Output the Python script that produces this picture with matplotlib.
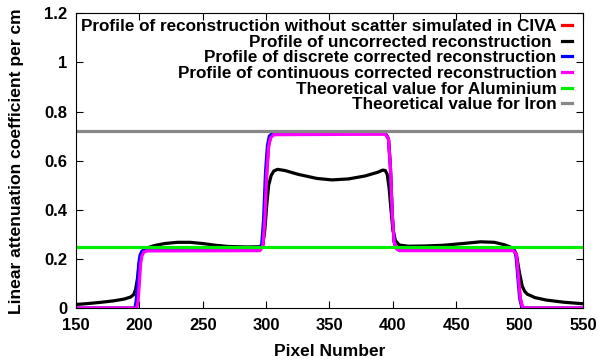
import numpy as np
import matplotlib
matplotlib.use("Agg")
import matplotlib.pyplot as plt

plt.rcParams['font.family'] = ['Liberation Sans', 'DejaVu Sans']
plt.rcParams['font.weight'] = 'bold'

# uncorrected reconstruction profile (black)
x_unc = [150, 160, 170, 180, 188, 193, 195.5, 197, 198.5, 200, 201.5, 203, 206, 212, 220, 230,
         240, 250, 260, 270, 285, 295, 297.5, 299, 300.5, 302, 304, 306, 309, 315, 325, 340, 352,
         365, 378, 388, 392, 394, 395.5, 397, 398.5, 400, 402, 405, 412, 425, 440, 455, 469,
         480, 488, 493, 496, 498, 500, 502, 504, 506, 512, 521, 535, 550]
y_unc = [0.015, 0.019, 0.024, 0.03, 0.037, 0.045, 0.055, 0.075, 0.12, 0.18, 0.22, 0.235, 0.245,
         0.255, 0.263, 0.268, 0.268, 0.263, 0.256, 0.251, 0.249, 0.25, 0.262, 0.32, 0.42, 0.5,
         0.54, 0.558, 0.565, 0.56, 0.545, 0.528, 0.522, 0.526, 0.538, 0.553, 0.562, 0.56, 0.545,
         0.49, 0.4, 0.32, 0.275, 0.257, 0.252, 0.253, 0.256, 0.263, 0.27, 0.268, 0.258, 0.248,
         0.235, 0.2, 0.14, 0.09, 0.068, 0.057, 0.043, 0.033, 0.024, 0.018]

# reconstruction without scatter (red)
x_civa = [150, 197.5, 198.5, 199.5, 200.5, 201.5, 203, 206, 295, 297.5, 299, 300.5, 302, 303.5,
          306, 394, 396.5, 398, 399.5, 401, 402.5, 405, 495, 497.5, 499, 500.5, 502, 504, 550]
y_civa = [0.0, 0.0, 0.03, 0.1, 0.18, 0.215, 0.23, 0.235, 0.235, 0.255, 0.36, 0.55, 0.66, 0.695,
          0.708, 0.71, 0.69, 0.58, 0.38, 0.27, 0.245, 0.236, 0.236, 0.22, 0.13, 0.04, 0.008, 0.0,
          0.0]

# discrete corrected (blue)
x_disc = [150, 196.5, 197.5, 198.5, 199.5, 200.5, 202, 205, 294, 296.5, 298, 299.5, 301, 302.5,
          305, 394, 396.5, 398, 399.5, 401, 402.5, 405, 495, 497, 498.5, 500, 501.5, 503.5, 550]
y_disc = [0.0, 0.0, 0.03, 0.1, 0.18, 0.215, 0.232, 0.237, 0.237, 0.257, 0.36, 0.55, 0.66, 0.7,
          0.712, 0.712, 0.69, 0.58, 0.38, 0.27, 0.245, 0.237, 0.237, 0.22, 0.13, 0.04, 0.008, 0.0,
          0.0]

# continuous corrected (magenta)
x_cont = [150, 198, 199, 200, 201, 202, 203.5, 206, 295, 297.5, 299, 300.5, 302, 303.5, 306,
          394, 396.5, 398, 399.5, 401, 402.5, 405, 495, 497.5, 499, 500.5, 502, 504, 550]
y_cont = [0.0, 0.0, 0.03, 0.1, 0.18, 0.212, 0.228, 0.233, 0.234, 0.255, 0.36, 0.55, 0.66, 0.693,
          0.706, 0.708, 0.69, 0.58, 0.38, 0.27, 0.244, 0.234, 0.234, 0.22, 0.13, 0.04, 0.008, 0.0,
          0.0]

al_value = 0.25
fe_value = 0.72

fig = plt.figure(figsize=(5.98, 3.6), dpi=100)
ax = fig.add_axes([0.127, 0.144, 0.848, 0.819])

lw = 2.3
ax.plot(x_civa, y_civa, color='red', lw=lw,
        label='Profile of reconstruction without scatter simulated in CIVA')
ax.plot(x_unc, y_unc, color='black', lw=lw, label='Profile of uncorrected reconstruction ')
ax.plot(x_disc, y_disc, color='blue', lw=lw, label='Profile of discrete corrected reconstruction')
ax.plot(x_cont, y_cont, color='magenta', lw=lw,
        label='Profile of continuous corrected reconstruction')
ax.axhline(al_value, color='#00ee00', lw=lw, label='Theoretical value for Aluminium')
ax.axhline(fe_value, color='#888888', lw=lw, label='Theoretical value for Iron')

ax.set_xlim(150, 550)
ax.set_ylim(0, 1.2)
ax.set_xticks(np.arange(150, 551, 50))
ax.set_yticks([0, 0.2, 0.4, 0.6, 0.8, 1, 1.2])
ax.set_yticklabels(['0', '0.2', '0.4', '0.6', '0.8', '1', '1.2'])
ax.tick_params(direction='in', top=True, right=True, labelsize=12, length=5, width=0.8)
ax.tick_params(axis='x', pad=7)
ax.tick_params(axis='y', pad=6)
for lab in ax.get_xticklabels() + ax.get_yticklabels():
    lab.set_fontweight('bold')

ax.set_xlabel('Pixel Number', fontsize=12.5, fontweight='bold', labelpad=8)
ylab = ax.set_ylabel('Linear attenuation coefficient per cm', fontsize=12, fontweight='bold')
ax.yaxis.set_label_coords(-0.102, 0.5)

# scale the y label so it spans about 305 px like the original
fig.canvas.draw()
span = ylab.get_window_extent().height
ylab.set_fontsize(12 * 305 / span)

ax.legend(loc='upper right', frameon=False, markerfirst=False,
          handlelength=0.6, handletextpad=0.3, labelspacing=0.04,
          borderpad=0, borderaxespad=0,
          bbox_to_anchor=(572 / 598, (360 - 19) / 360), bbox_transform=fig.transFigure,
          prop={'weight': 'bold', 'size': 12.3})

fig.savefig('out.png', dpi=100)
